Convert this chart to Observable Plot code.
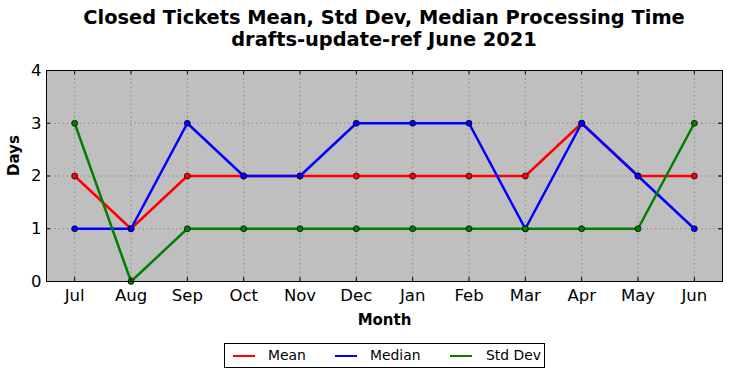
<!DOCTYPE html>
<html><head><meta charset="utf-8">
<script src="https://cdn.jsdelivr.net/npm/d3@7"></script>
<script src="https://cdn.jsdelivr.net/npm/@observablehq/plot@0.6"></script>
<style>
body{margin:0;background:#fff;font-family:"DejaVu Sans",sans-serif;width:732px;height:378px;position:relative;overflow:hidden}
#title{position:absolute;top:7px;left:46px;width:676px;text-align:center;font-weight:bold;font-size:19.4px;line-height:22px;color:#000}
#chart{position:absolute;top:58px;left:0}
#legend{position:absolute;left:224px;top:343px;width:319px;height:23px;border:1px solid #000;background:#fff;font-size:13.9px}
.item{position:absolute;top:0;height:23px;line-height:23px}
.sw{position:absolute;top:11px;width:22px;height:0;border-top:2.5px solid}
</style></head><body>
<div id="title">Closed Tickets Mean, Std Dev, Median Processing Time<br>drafts-update-ref June 2021</div>
<div id="chart"></div>
<div id="legend"></div>
<script>
const months = ["Jul","Aug","Sep","Oct","Nov","Dec","Jan","Feb","Mar","Apr","May","Jun"];
const meanVals   = [2,1,2,2,2,2,2,2,2,3,2,2];
const medianVals = [1,1,3,2,2,3,3,3,1,3,2,1];
const stdVals    = [3,0,1,1,1,1,1,1,1,1,1,3];
const seriesNames = ["Mean","Median","Std Dev"];
const seriesColors = ["#ff0000","#0000ff","#008000"];
const yTicks = [0,1,2,3,4];

const seriesVals = [meanVals, medianVals, stdVals];
const data = seriesNames.map((name,k) => months.map((m,i) => ({month:m, value:seriesVals[k][i], series:name})));

const W = 732, H = 277, mL = 46, mR = 10, mT = 12, mB = 54;
const pw = W - mL - mR, ph = H - mT - mB;
const tickLen = 4;

const seriesMarks = data.flatMap(d => [
  Plot.line(d, {x:"month", y:"value", stroke:"series", strokeWidth:2.5}),
  Plot.dot(d, {x:"month", y:"value", fill:"series", stroke:"#000", strokeWidth:0.7, r:3})
]);

const chart = Plot.plot({
  width: W, height: H, marginLeft: mL, marginRight: mR, marginTop: mT, marginBottom: mB,
  style: {fontFamily: "DejaVu Sans, sans-serif", fontSize: "16.5px", color: "#000", background: "transparent", overflow: "visible"},
  x: {type: "point", domain: months, padding: 0.5, round: false, label: null},
  y: {domain: [0, 4], label: null},
  color: {domain: seriesNames, range: seriesColors},
  marks: [
    Plot.frame({fill: "#bfbfbf"}),
    Plot.gridX(months, {stroke: "#7f7f7f", strokeOpacity: 1, strokeDasharray: "1.2,3"}),
    Plot.gridY(yTicks, {stroke: "#7f7f7f", strokeOpacity: 1, strokeDasharray: "1.2,3"}),
    ...seriesMarks,
    Plot.frame({stroke: "#000", strokeWidth: 1}),
    Plot.tickY(yTicks, {y: d => d, stroke: "#000", insetRight: pw - tickLen}),
    Plot.tickY(yTicks, {y: d => d, stroke: "#000", insetLeft: pw - tickLen}),
    Plot.tickX(months, {x: d => d, stroke: "#000", insetBottom: ph - tickLen}),
    Plot.tickX(months, {x: d => d, stroke: "#000", insetTop: ph - tickLen}),
    Plot.axisY(yTicks, {tickSize: 0, tickPadding: 5, fontSize: 16.5, tickFormat: d3.format("d")}),
    Plot.axisX(months, {tickSize: 0, tickPadding: 8, fontSize: 16.5}),
    Plot.text(["Days"], {frameAnchor: "left", dx: -32, rotate: -90, fontWeight: "bold", fontSize: 15, text: d => d}),
    Plot.text(["Month"], {frameAnchor: "bottom", dy: 43, fontWeight: "bold", fontSize: 15, text: d => d})
  ]
});
document.getElementById("chart").appendChild(chart);

const legend = document.getElementById("legend");
const swX = [8, 110, 225], txX = [43, 145, 261];
seriesNames.forEach((n,i) => {
  const sw = document.createElement("div");
  sw.className = "sw"; sw.style.left = swX[i] + "px"; sw.style.borderTopColor = seriesColors[i];
  legend.appendChild(sw);
  const t = document.createElement("div");
  t.className = "item"; t.style.left = txX[i] + "px"; t.textContent = n;
  legend.appendChild(t);
});
</script>
</body></html>
